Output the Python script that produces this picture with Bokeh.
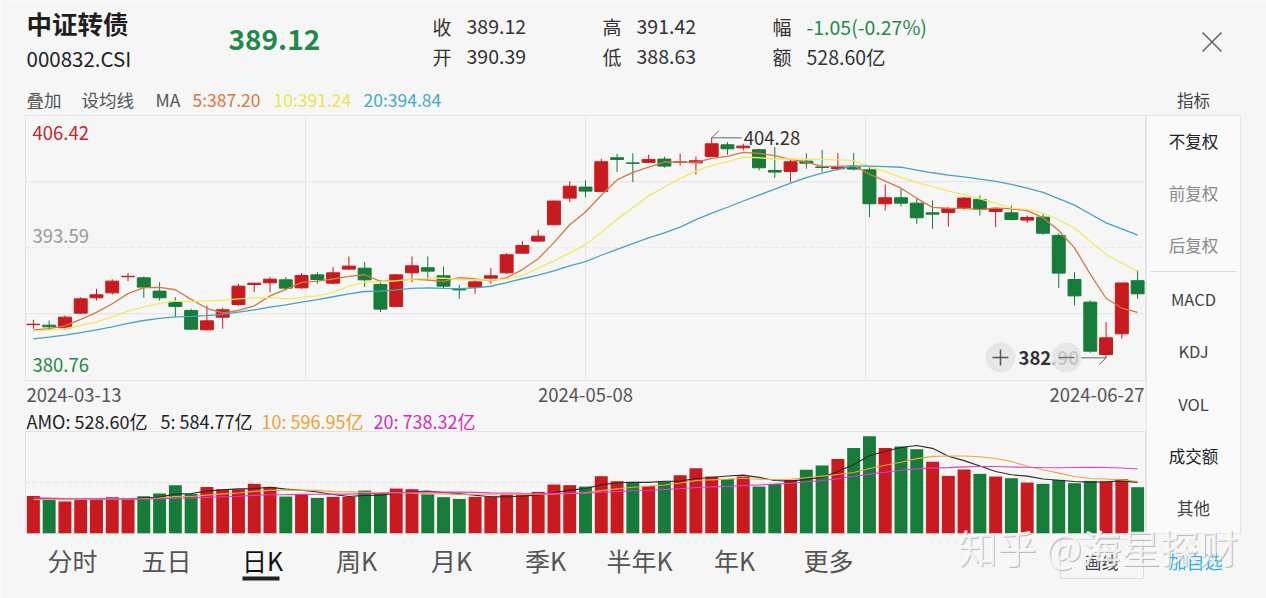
import numpy as np
import pandas as pd
from bokeh.plotting import figure
from bokeh.models import Range1d
from bokeh.core.properties import value
from bokeh.embed import file_html
from bokeh.resources import INLINE

# ---------------- data ----------------
name = "中证转债"
code = "000832.CSI"
holidays = ["2024-04-04", "2024-04-05", "2024-05-01", "2024-05-02", "2024-05-03", "2024-06-10"]
dates = [d.strftime("%Y-%m-%d") for d in pd.bdate_range("2024-03-13", "2024-06-27")
         if d.strftime("%Y-%m-%d") not in holidays]

open_ = [386.12, 386.07, 385.81, 387.24, 388.73, 389.21, 390.78, 390.67, 389.38, 388.31,
         387.50, 385.62, 386.85, 388.08, 390.02, 390.19, 390.48, 389.70, 390.96, 390.15,
         391.52, 391.61, 390.02, 387.89, 391.16, 391.65, 390.87, 389.58, 389.77, 390.64,
         391.16, 393.07, 394.24, 395.83, 398.42, 399.49, 399.07, 402.34, 401.84, 401.89,
         402.21, 401.90, 401.85, 402.47, 403.60, 403.31, 403.12, 401.11, 401.01, 402.01,
         401.45, 401.27, 401.43, 401.17, 397.87, 398.45, 397.93, 396.99, 397.02, 397.48,
         398.29, 397.12, 396.99, 396.28, 396.57, 394.79, 390.51, 388.31, 383.22, 385.23,
         390.39]
high = [386.59, 386.53, 387.01, 388.79, 389.60, 390.54, 391.13, 390.80, 390.25, 388.79,
        387.66, 387.98, 387.76, 390.09, 390.17, 390.74, 390.74, 391.13, 391.22, 391.71,
        392.75, 392.20, 390.41, 391.06, 392.75, 392.75, 391.78, 389.99, 390.48, 391.61,
        393.07, 394.24, 395.34, 398.19, 400.04, 400.14, 402.24, 402.73, 402.79, 402.63,
        402.47, 402.73, 402.47, 404.28, 403.86, 403.70, 403.21, 403.38, 402.14, 402.79,
        403.12, 402.79, 402.79, 401.43, 399.75, 399.33, 398.35, 398.19, 397.54, 398.52,
        398.68, 397.48, 397.70, 396.73, 396.89, 395.01, 391.22, 388.47, 386.36, 390.20,
        391.42]
low = [385.72, 385.55, 385.62, 387.17, 388.47, 389.05, 390.35, 388.73, 388.47, 386.85,
       385.62, 385.55, 385.72, 387.95, 389.28, 389.28, 389.44, 389.60, 390.09, 390.02,
       391.45, 389.77, 387.34, 387.82, 390.25, 390.41, 389.60, 388.63, 389.12, 390.09,
       391.06, 393.01, 394.17, 395.76, 398.03, 398.52, 399.00, 400.95, 399.97, 401.82,
       401.37, 401.59, 400.72, 402.40, 402.63, 403.05, 401.11, 400.39, 399.97, 401.27,
       400.95, 401.11, 401.11, 396.57, 397.22, 397.61, 395.92, 395.44, 395.66, 397.28,
       396.73, 395.60, 396.25, 395.99, 394.85, 389.70, 387.98, 383.38, 382.90, 384.74,
       388.63]
close = [386.16, 385.91, 386.85, 388.63, 389.02, 390.35, 390.82, 389.77, 388.73, 387.89,
         385.68, 386.49, 387.56, 389.86, 390.15, 390.54, 389.67, 390.90, 390.51, 391.16,
         391.81, 390.48, 387.63, 390.96, 391.84, 391.32, 389.86, 389.50, 390.28, 390.87,
         392.91, 393.82, 394.72, 398.13, 399.58, 399.10, 401.95, 402.18, 401.80, 402.18,
         401.53, 401.94, 402.05, 403.70, 403.21, 403.47, 401.37, 400.95, 401.95, 401.82,
         401.40, 401.43, 401.24, 397.87, 398.45, 397.93, 396.51, 396.86, 397.41, 398.42,
         397.32, 397.36, 396.34, 396.54, 395.01, 391.13, 388.92, 383.54, 384.84, 390.17,
         389.12]
# turnover (亿)
amo = [429, 383, 364, 394, 387, 414, 398, 425, 456, 552,
       452, 532, 506, 506, 567, 532, 421, 444, 406, 417,
       417, 490, 460, 513, 506, 448, 414, 394, 417, 421,
       444, 444, 475, 559, 552, 536, 655, 597, 590, 544,
       597, 666, 747, 651, 624, 651, 536, 567, 613, 728,
       777, 854, 980, 1115, 980, 996, 965, 820, 659, 732,
       682, 651, 632, 582, 567, 613, 575, 601, 597, 620,
       528.60]
# 19 sessions before 2024-03-13, estimated from where the MA lines start
seed_closes = [382.6, 383.1, 383.5, 383.9, 384.2, 384.0, 384.4, 384.6, 384.8, 384.8,
               385.0, 385.3, 385.6, 385.4, 385.5, 385.3, 385.6, 385.4, 385.64]
seed_amo = [450, 440, 435, 430, 425, 420, 415, 420, 410, 405,
            385, 378, 382, 375, 380, 390, 380, 386, 385]

price_ticks = [406.42, 393.59, 380.76]
ma_windows = [5, 10, 20]
ma_shown = [387.20, 391.24, 394.84]
amo_ma_shown = [584.77, 596.95, 738.32]
low_label = "382.90"
tabs = ["分时", "五日", "日K", "周K", "月K", "季K", "半年K", "年K", "更多"]
side_items = ["不复权", "前复权", "后复权", "MACD", "KDJ", "VOL", "成交额", "其他"]

# ---------------- derived series ----------------
n = len(dates)
idx = np.arange(n)
ns = len(seed_closes)
all_c = pd.Series(seed_closes + close)
all_v = pd.Series(seed_amo + amo)
ma_p = [all_c.rolling(w).mean().to_numpy()[ns:] for w in ma_windows]
ma_v = [all_v.rolling(w).mean().to_numpy()[ns:] for w in ma_windows]
o, h, l, c = map(np.array, (open_, high, low, close))
prev_c = np.array([seed_closes[-1]] + close[:-1])

RED, GREEN = "#c81a1f", "#177b3a"
cand_col = [RED if cc > oo else GREEN for oo, cc in zip(o, c)]
vol_col = [RED if cc >= pc else GREEN for cc, pc in zip(c, prev_c)]

# ---------------- layout (page pixels) ----------------
FONT = "Noto Sans CJK SC"
BG = "#f6f6f6"
W, H = 1266, 598
OX, OY = 0, 0
def X(rx): return rx - OX
def Y(ry): return ry - OY

CH_L, CH_R = 25, 1145
CH_T, CH_B = 115.3, 379.3
VB = 532.7            # volume baseline
VOL_PX = 0.0870       # px per 亿
slot = (CH_R - CH_L) / n
pmax, pmid, pmin = price_ticks
ppx = (CH_B - CH_T) / (pmax - pmin)

p = figure(width=W, height=H, x_range=Range1d(0, W), y_range=Range1d(H, 0),
           x_axis_type=None, y_axis_type=None, toolbar_location=None,
           output_backend="svg", min_border=0, outline_line_color=None,
           background_fill_color=BG, border_fill_color=BG)
p.extra_x_ranges = {"idx": Range1d((0 - X(CH_L)) / slot - 0.5, (W - X(CH_L)) / slot - 0.5)}
p.extra_y_ranges = {
    "price": Range1d(pmin - (H - Y(CH_B)) / ppx, pmax + Y(CH_T) / ppx),
    "amo": Range1d(-(H - Y(VB)) / VOL_PX, Y(VB) / VOL_PX),
}

def txt(rx, ry, s, size, color="#333333", align="left", style="normal", alpha=1.0):
    p.text(x=[X(rx)], y=[Y(ry)], text=[s], text_font=value(FONT),
           text_font_size=value(f"{size}px"), text_color=color, text_align=align,
           text_baseline="middle", text_font_style=style, text_alpha=alpha)

def seg(x0, y0, x1, y1, color="#e3e3e3", width=1, dash="solid", alpha=1.0):
    p.segment(x0=[X(x0)], y0=[Y(y0)], x1=[X(x1)], y1=[Y(y1)], line_color=color,
              line_width=width, line_dash=dash, line_alpha=alpha)

def rect(x0, y0, x1, y1, fill=None, line="#e3e3e3"):
    p.quad(left=[X(x0)], right=[X(x1)], top=[Y(y0)], bottom=[Y(y1)],
           fill_color=fill, fill_alpha=1 if fill else 0, line_color=line, line_width=1)

# ---------------- header ----------------
txt(26, 22, name, 25.5, "#1e1e1e", style="bold")
txt(26, 57, code, 20.5, "#222222")
txt(228, 39, f"{c[-1]:.2f}", 28, "#1f8a4c", style="bold")
chg = c[-1] - c[-2]
quote = [("收", f"{c[-1]:.2f}"), ("开", f"{o[-1]:.2f}"), ("高", f"{h[-1]:.2f}"),
         ("低", f"{l[-1]:.2f}"), ("幅", f"{chg:.2f}({chg / c[-2] * 100:.2f}%)"),
         ("额", f"{amo[-1]:.2f}亿")]
for k, (lab, val) in enumerate(quote):
    col = k // 2
    row = k % 2
    lx = 432 + 170 * col
    ly = 26 + 30 * row
    txt(lx, ly, lab, 19, "#333333")
    txt(lx + 34, ly, val, 19.5, "#1f8a4c" if lab == "幅" else "#333333")
seg(1202, 32, 1221, 51, "#666666", 1.6)
seg(1202, 51, 1221, 32, "#666666", 1.6)

txt(26, 99, "叠加", 17.5, "#555555")
txt(81, 99, "设均线", 17.5, "#555555")
txt(155, 99, "MA", 17.5, "#555555")
ma_cols = ["#d9773c", "#ece44a", "#46a9cb"]
for xx, w, v, col in zip([192, 273, 363], ma_windows, ma_shown, ma_cols):
    txt(xx, 99, f"{w}:{v:.2f}", 17.5, col)
txt(1193, 99, "指标", 16.5, "#444444", align="center")

# ---------------- chart frames ----------------
rect(1146, 115, 1240, 533, fill="#fafafa", line="#e6e6e6")
rect(CH_L, 115, CH_R, 380, line="#e3e3e3")
rect(CH_L, 431, CH_R, 533, line="#e3e3e3")
seg(1150, 271, 1236, 271, "#dcdcdc")
for q in [1, 2, 3]:
    xx = CH_L + (CH_R - CH_L) * q / 4
    seg(xx, 115, xx, 380, "#e6e6e6")
# horizontal price grid
gy = [(pmax + pmid) / 2, pmid, (pmid + pmin) / 2]
for g, d in zip(gy, ["solid", "4 3", "solid"]):
    p.segment(x0=[X(CH_L)], x1=[X(CH_R)], y0=[g], y1=[g], y_range_name="price",
              line_color="#e3e3e3", line_width=1, line_dash=d)
seg(CH_L, 482, CH_R, 482, "#e3e3e3", 1, "4 3")

# ---------------- candles ----------------
top = np.maximum(o, c)
bot = np.minimum(o, c)
p.segment(x0=idx, x1=idx, y0=l, y1=h, line_color=cand_col, line_width=1,
          x_range_name="idx", y_range_name="price")
p.vbar(x=idx, width=0.82, top=top, bottom=bot, fill_color=cand_col, line_color=cand_col,
       line_width=1, x_range_name="idx", y_range_name="price")
for m, col in zip(ma_p, ["#d27a40", "#f1ea5c", "#46a3c7"]):
    p.line(x=idx, y=m, line_color=col, line_width=1.3, x_range_name="idx", y_range_name="price")

# price axis labels
txt(32, 132, f"{pmax:.2f}", 18.5, "#c0282d")
txt(32, 235, f"{pmid:.2f}", 18.5, "#9a9a9a")
txt(32, 364, f"{pmin:.2f}", 18.5, "#1e8a4a")
# date labels
txt(26, 394, dates[0], 18.5, "#555555")
txt(CH_L + (n // 2 + 0.5) * slot, 394, dates[n // 2], 18.5, "#555555", align="center")
txt(CH_R - 1, 394, dates[-1], 18.5, "#555555", align="right")

# high marker
ih = int(np.argmax(h))
p.segment(x0=[ih, ih], y0=[h[ih], h[ih]], x1=[ih + 30 / slot, ih + 7 / slot],
          y1=[h[ih], h[ih] + 7 / ppx], line_color="#666666", line_width=1,
          x_range_name="idx", y_range_name="price")
p.text(x=[ih + 32 / slot], y=[h[ih]], text=[f"{h[ih]:.2f}"], text_font=value(FONT),
       text_font_size=value("18.5px"), text_color="#333333", text_baseline="middle",
       x_range_name="idx", y_range_name="price")
# low marker
il = int(np.argmin(l))
p.segment(x0=[il, il], y0=[l[il], l[il]], x1=[il - 25 / slot, il - 7 / slot],
          y1=[l[il], l[il] - 7 / ppx], line_color="#666666", line_width=1,
          x_range_name="idx", y_range_name="price")
p.text(x=[il - 27 / slot], y=[l[il]], text=[low_label], text_font=value(FONT),
       text_font_size=value("18.5px"), text_color="#333333", text_baseline="middle",
       text_align="right", text_font_style="bold", x_range_name="idx", y_range_name="price")
# zoom buttons overlay
p.circle(x=[X(1000), X(1066)], y=[Y(357), Y(357)], radius=15, fill_color="#e4e4e4",
         fill_alpha=0.85, line_color=None)
seg(992, 357, 1008, 357, "#555555", 1.5)
seg(1000, 349, 1000, 365, "#555555", 1.5)
seg(1058, 357, 1074, 357, "#777777", 1.5)

# ---------------- volume ----------------
txt(26, 420, f"AMO: {amo[-1]:.2f}亿", 18, "#222222")
for xx, w, v, col in zip([160, 261, 373], ma_windows, amo_ma_shown,
                         ["#222222", "#f0a030", "#d42bc4"]):
    txt(xx, 420, f"{w}: {v:.2f}亿", 18, col)
p.vbar(x=idx, width=0.82, top=amo, bottom=0, fill_color=vol_col, line_color=None,
       x_range_name="idx", y_range_name="amo")
for m, col in zip(ma_v, ["#2a2a2a", "#f2a43c", "#e03cd0"]):
    p.line(x=idx, y=m, line_color=col, line_width=1.1, x_range_name="idx", y_range_name="amo")

# ---------------- side menu ----------------
side_y = [141, 193, 245, 299, 351, 404, 456, 508]
side_c = ["#222222", "#8a8a8a", "#8a8a8a", "#444444", "#444444", "#444444", "#222222", "#444444"]
for s, yy, col in zip(side_items, side_y, side_c):
    txt(1193, yy - 1, s, 16.5, col, align="center")

# ---------------- bottom tabs ----------------
tab_x = [72, 166, 262, 356, 451, 545, 639, 734, 828]
for s, xx in zip(tabs, tab_x):
    txt(xx, 559, s, 25, "#111111" if s == "日K" else "#555555", align="center")
p.quad(left=[X(242)], right=[X(279)], top=[Y(576)], bottom=[Y(580)], fill_color="#222222",
       line_color=None)
rect(1060, 539, 1143, 578, fill=None, line="#dddddd")
txt(1101, 561, "画线", 17, "#444444", align="center")
txt(1195, 560, "加自选", 18, "#2fb4de", align="center")
# watermark
txt(959, 546, "知乎 @海星探财", 39, "#8c8c8c", alpha=0.55)
txt(958, 545, "知乎 @海星探财", 39, "#ffffff", alpha=0.8)

html = file_html(p, INLINE)
html = html.replace("<body>", f'<body style="margin:0;background-color:{BG};">', 1)
open("out.html", "w").write(html)
